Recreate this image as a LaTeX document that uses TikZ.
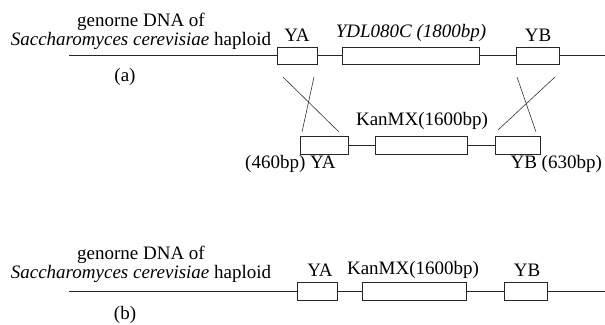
\documentclass[tikz,border=0pt]{standalone}
\usepackage{fontspec}
\setmainfont{Liberation Serif}

\newcommand*{\lineleft}{69}
\newcommand*{\lineright}{605}
\newcommand*{\rowa}{55.5}
\newcommand*{\rowm}{145}
\newcommand*{\rowb}{291.5}

\begin{document}
\begin{tikzpicture}
[
	x=1pt,y=-1pt,
	every node/.style={font=\fontsize{19}{19}\selectfont},
	gene/.style={draw,black!85,fill=white,line width=0.8pt,inner sep=0pt,minimum height=17pt},
	dna/.style={line width=0.9pt,black!85},
	cross/.style={line width=0.6pt,black!80},
	title/.style={align=center,inner sep=1pt}
]
	\useasboundingbox (0,0) rectangle (605,324);

	% (a) genome before
	\node[gene,minimum width=40pt] (ya) at (297,\rowa) {};
	\node[gene,minimum width=136.5pt] (ydl) at (411,\rowa) {};
	\node[gene,minimum width=42.5pt] (yb) at (538,\rowa) {};
	\coordinate (al) at (\lineleft,\rowa);
	\coordinate (ar) at (\lineright,\rowa);
	\draw[dna] (al) -- (ya.west) (ya.east) -- (ydl.west) (ydl.east) -- (yb.west) (yb.east) -- (ar);

	\node[title] (ttla) at (141,31.5) {genorne DNA of\\ \textit{Saccharomyces cerevisiae} haploid};
	\node (taga) at (125,77) {(a)};
	\node (lya) at (297,35) {YA};
	\node (lydl) at (411,33) {\textit{YDL080C (1800bp)}};
	\node (lyb) at (538,35) {YB};

	% cassette
	\node[gene,minimum width=47.5pt,minimum height=18pt] (ya2) at (324.5,\rowm) {};
	\node[gene,minimum width=91.5pt,minimum height=18pt] (kan) at (421.5,\rowm) {};
	\node[gene,minimum width=45.5pt,minimum height=18pt] (yb2) at (518,\rowm) {};
	\draw[dna] (ya2.east) -- (kan.west) (kan.east) -- (yb2.west);

	\node (lkan) at (422,121) {KanMX(1600bp)};
	\node[anchor=east] (lya2) at (339,164) {(460bp) YA};
	\node[anchor=west] (lyb2) at (507,164) {YB (630bp)};

	% crossing over
	\coordinate (c1) at (283,77);
	\coordinate (c2) at (339,132);
	\coordinate (c3) at (314,77);
	\coordinate (c4) at (302,132);
	\coordinate (c5) at (555,77);
	\coordinate (c6) at (498,130);
	\coordinate (c7) at (517,77);
	\coordinate (c8) at (536,132);
	\draw[cross] (c1) -- (c2) (c3) -- (c4) (c5) -- (c6) (c7) -- (c8);

	% (b) genome after
	\node[gene,minimum width=40pt,minimum height=18pt] (ya3) at (317.5,\rowb) {};
	\node[gene,minimum width=104pt,minimum height=18pt] (kan3) at (414.5,\rowb) {};
	\node[gene,minimum width=43pt,minimum height=18pt] (yb3) at (526,\rowb) {};
	\coordinate (bl) at (\lineleft,\rowb);
	\coordinate (br) at (\lineright,\rowb);
	\draw[dna] (bl) -- (ya3.west) (ya3.east) -- (kan3.west) (kan3.east) -- (yb3.west) (yb3.east) -- (br);

	\node[title] (ttlb) at (141,264) {genorne DNA of\\ \textit{Saccharomyces cerevisiae} haploid};
	\node (tagb) at (125,315) {(b)};
	\node (lya3) at (320,270) {YA};
	\node (lkan3) at (413,270) {KanMX(1600bp)};
	\node (lyb3) at (527,270) {YB};

\end{tikzpicture}
\end{document}
